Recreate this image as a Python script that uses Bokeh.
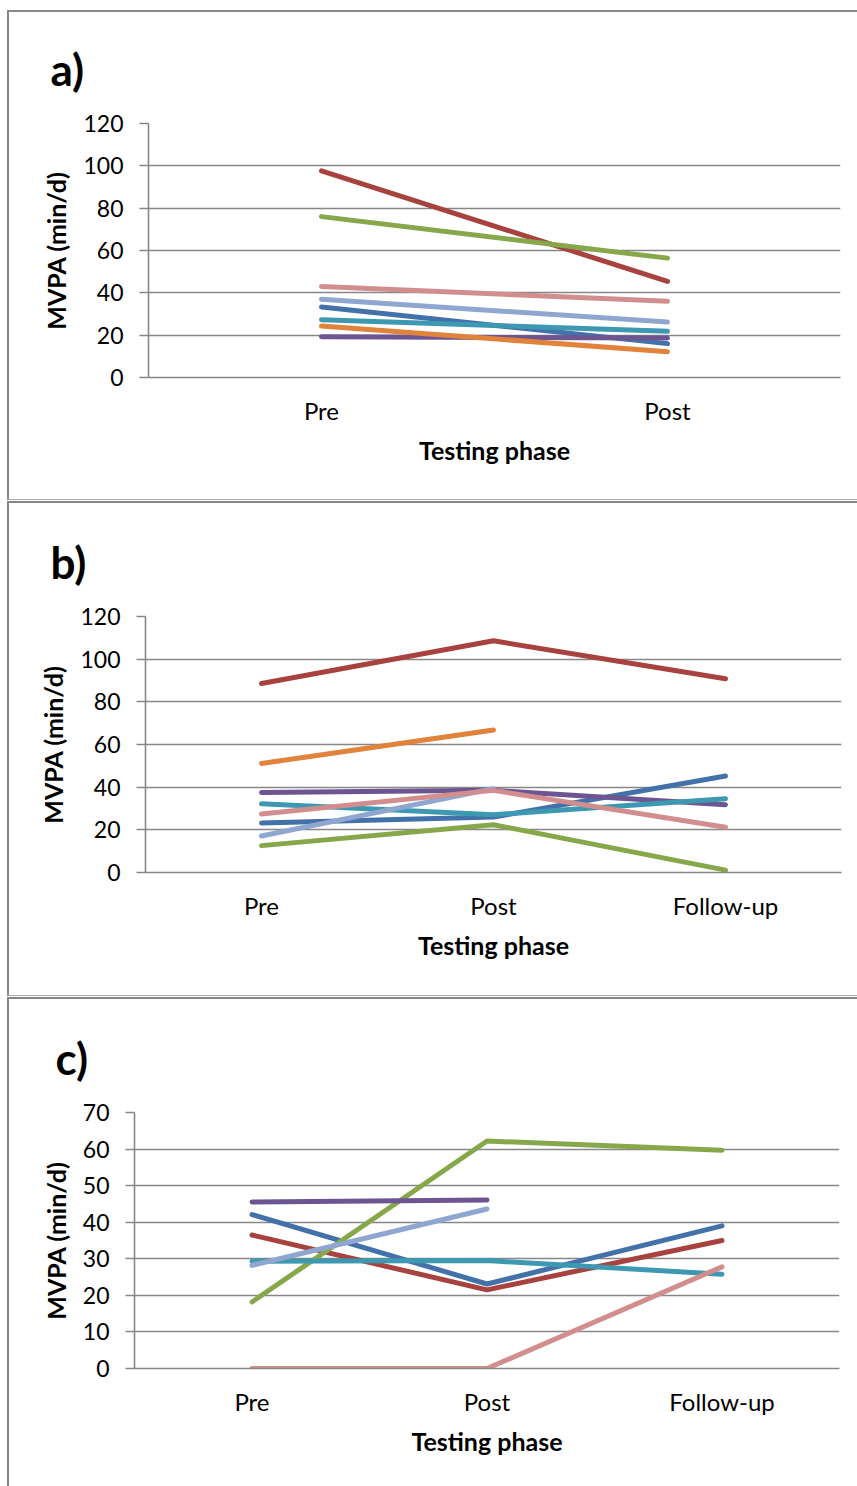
from bokeh.plotting import figure
from bokeh.models import FactorRange, Range1d, FixedTicker, InlineStyleSheet
from bokeh.layouts import column
from bokeh.embed import file_html
from bokeh.resources import INLINE

NaN = float("nan")

# ---- data -------------------------------------------------------------
phases_a = ["Pre", "Post"]
phases_bc = ["Pre", "Post", "Follow-up"]

series_order = ["blue", "red", "green", "purple", "teal", "orange", "lightblue", "pink"]

a_blue = [33.3, 16.0]
a_red = [97.6, 45.4]
a_green = [76.0, 56.4]
a_purple = [19.2, 18.7]
a_teal = [27.3, 21.8]
a_orange = [24.3, 12.2]
a_lightblue = [37.0, 26.2]
a_pink = [43.0, 36.0]

b_blue = [23.2, 26.0, 45.2]
b_red = [88.6, 108.6, 90.8]
b_green = [12.6, 22.4, 1.1]
b_purple = [37.5, 38.5, 31.8]
b_teal = [32.2, 27.1, 34.6]
b_orange = [51.1, 66.8, NaN]
b_lightblue = [17.1, 39.3, NaN]
b_pink = [27.4, 38.5, 21.2]

c_blue = [42.1, 23.1, 39.0]
c_red = [36.5, 21.5, 35.0]
c_green = [18.2, 62.2, 59.7]
c_purple = [45.5, 46.1, NaN]
c_teal = [29.3, 29.5, 25.8]
c_lightblue = [28.2, 43.6, NaN]
c_pink = [0.0, 0.0, 27.8]

y_ticks_ab = [0, 20, 40, 60, 80, 100, 120]
y_ticks_c = [0, 10, 20, 30, 40, 50, 60, 70]

# ---- style ------------------------------------------------------------
COLORS = {
    "blue": "#4371AA",
    "red": "#A8423E",
    "green": "#87A74B",
    "purple": "#6D5591",
    "teal": "#3D98B1",
    "orange": "#E1833B",
    "lightblue": "#8FA7D0",
    "pink": "#D28E8E",
}
GRAY = "#878787"
FONT = "Lato"


def box_css(top, height, bottom_border):
    bb = "border-bottom: 1px solid #a8a8a8;" if bottom_border else ""
    return InlineStyleSheet(css=f"""
:host {{ position: relative; }}
:host::after {{
  content: "";
  position: absolute;
  left: 7px; top: {top}px; right: 0px; height: {height}px;
  border-left: 2px solid {GRAY};
  border-top: 2px solid {GRAY};
  {bb}
  box-sizing: border-box;
  pointer-events: none;
}}
""")


def make_panel(cats, data, ymax, ticks, height, top, bottom, left, right,
               tag, tag_offset, box_top, box_height, box_bottom):
    p = figure(width=857, height=height,
               x_range=FactorRange(*cats),
               y_range=Range1d(0, ymax),
               output_backend="svg", toolbar_location=None,
               min_border_left=left, min_border_right=857 - right,
               min_border_top=top, min_border_bottom=height - bottom,
               stylesheets=[box_css(box_top, box_height, box_bottom)])
    p.frame_align = False
    p.outline_line_color = None
    p.background_fill_color = "white"
    p.border_fill_color = "white"

    p.title.text = tag
    p.title.text_font = FONT
    p.title.text_font_style = "bold"
    p.title.text_font_size = "44px"
    p.title.text_color = "black"
    p.title.align = "left"
    p.title.offset = tag_offset
    p.title.standoff = 58

    p.xgrid.visible = False
    p.ygrid.grid_line_color = GRAY
    p.ygrid.grid_line_width = 1.6
    p.ygrid.ticker = FixedTicker(ticks=ticks)

    p.yaxis.ticker = FixedTicker(ticks=ticks)
    p.yaxis.axis_line_color = GRAY
    p.yaxis.axis_line_width = 1.6
    p.yaxis.major_tick_line_color = GRAY
    p.yaxis.major_tick_line_width = 1.6
    p.yaxis.major_tick_out = 9
    p.yaxis.major_tick_in = 0
    p.yaxis.minor_tick_line_color = None
    p.yaxis.major_label_text_font = FONT
    p.yaxis.major_label_text_font_size = "23px"
    p.yaxis.major_label_text_color = "black"
    p.yaxis.major_label_standoff = 16
    p.yaxis.axis_label = "MVPA (min/d)"
    p.yaxis.axis_label_text_font = FONT
    p.yaxis.axis_label_text_font_style = "bold"
    p.yaxis.axis_label_text_font_size = "25px"
    p.yaxis.axis_label_text_color = "black"
    p.yaxis.axis_label_standoff = 9

    p.xaxis.axis_line_color = GRAY
    p.xaxis.axis_line_width = 1.6
    p.xaxis.major_tick_line_color = None
    p.xaxis.minor_tick_line_color = None
    p.xaxis.major_label_text_font = FONT
    p.xaxis.major_label_text_font_size = "24px"
    p.xaxis.major_label_text_color = "black"
    p.xaxis.major_label_standoff = 12
    p.xaxis.axis_label = "Testing phase"
    p.xaxis.axis_label_text_font = FONT
    p.xaxis.axis_label_text_font_style = "bold"
    p.xaxis.axis_label_text_font_size = "25px"
    p.xaxis.axis_label_text_color = "black"
    p.xaxis.axis_label_standoff = 7

    for name in series_order:
        if name in data:
            p.line(x=cats, y=data[name], line_color=COLORS[name],
                   line_width=5, line_cap="round", line_join="round")
    return p


pa = make_panel(phases_a,
                {"blue": a_blue, "red": a_red, "green": a_green, "purple": a_purple,
                 "teal": a_teal, "orange": a_orange, "lightblue": a_lightblue,
                 "pink": a_pink},
                120, y_ticks_ab, 500, 123, 377, 148, 840, "a)", -98, 10, 490, True)

pb = make_panel(phases_bc,
                {"blue": b_blue, "red": b_red, "green": b_green, "purple": b_purple,
                 "teal": b_teal, "orange": b_orange, "lightblue": b_lightblue,
                 "pink": b_pink},
                120, y_ticks_ab, 497, 116, 372, 145, 841, "b)", -95, 1, 495, True)

pc = make_panel(phases_bc,
                {"blue": c_blue, "red": c_red, "green": c_green, "purple": c_purple,
                 "teal": c_teal, "lightblue": c_lightblue, "pink": c_pink},
                70, y_ticks_c, 489, 115, 371, 134, 839, "c)", -79, 0, 489, False)

layout = column(pa, pb, pc, spacing=0)
open("out.html", "w").write(file_html(layout, INLINE))
